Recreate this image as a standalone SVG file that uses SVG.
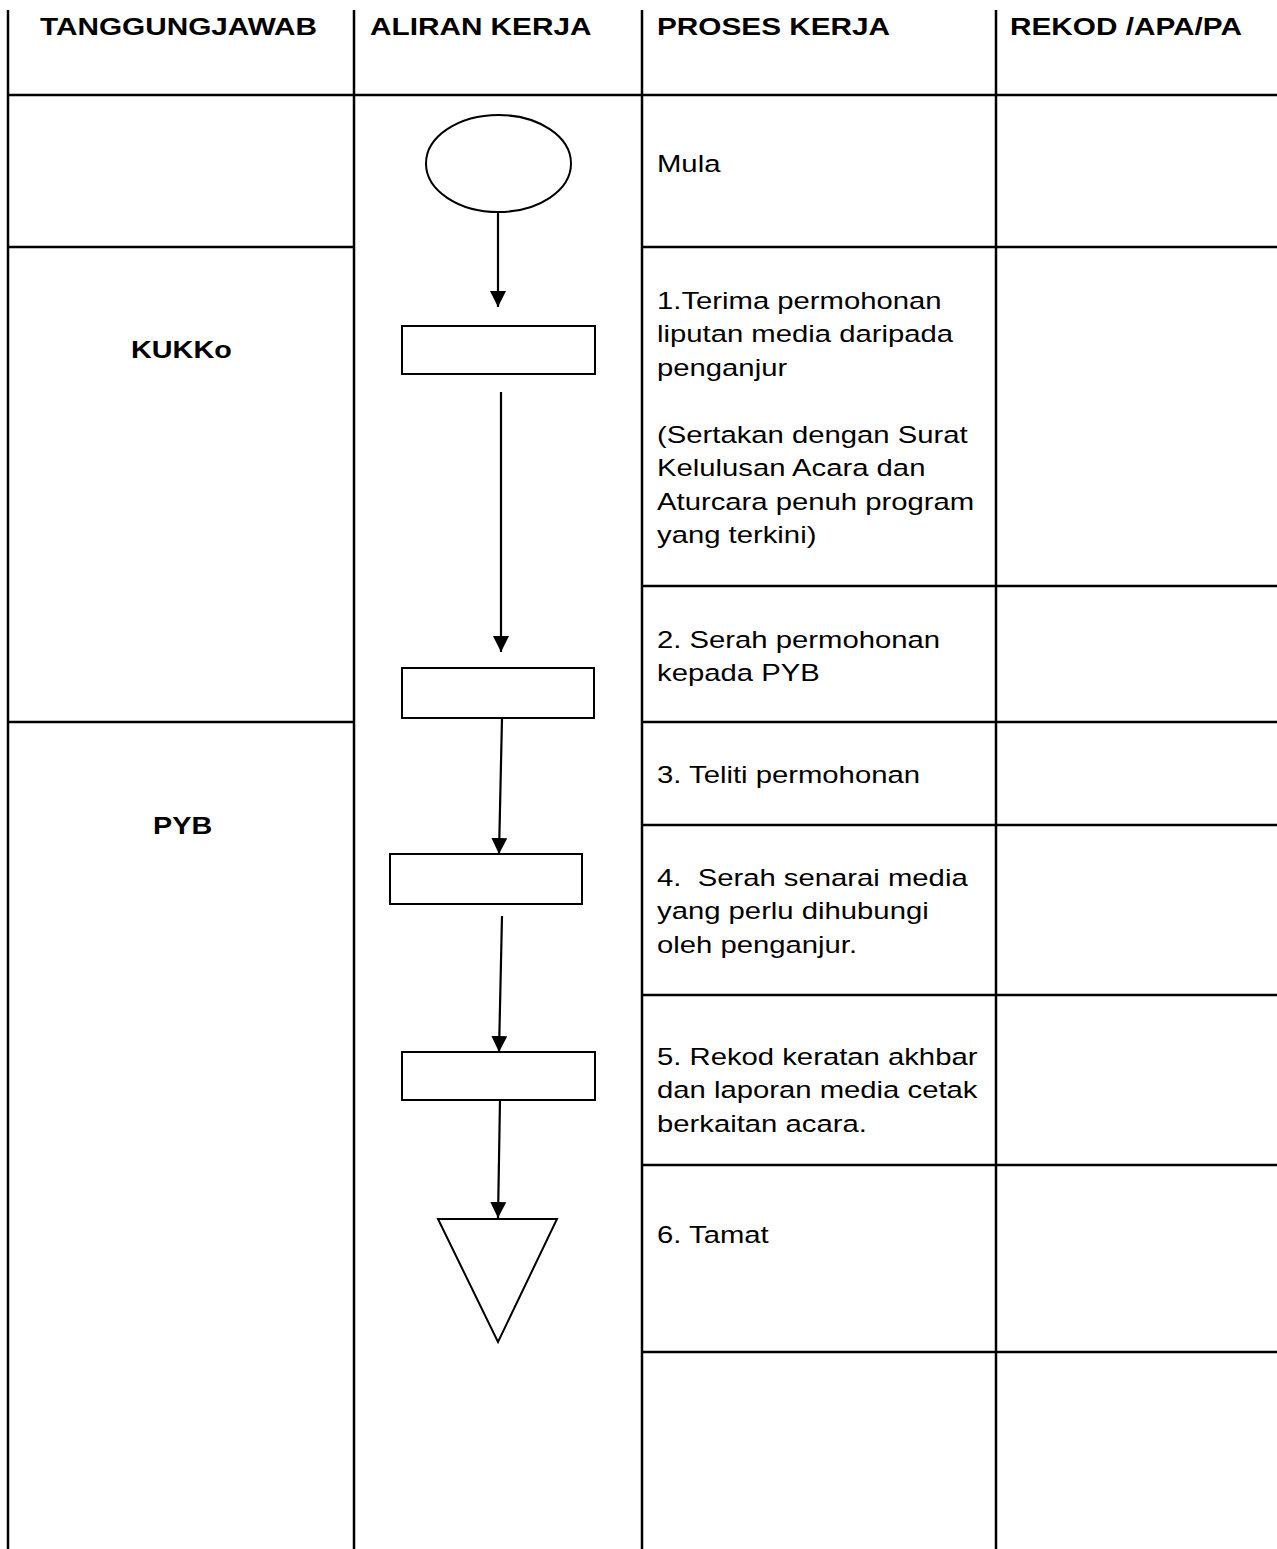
<svg xmlns="http://www.w3.org/2000/svg" width="1277" height="1549" viewBox="0 0 1277 1549">
<style>
.grid{stroke:#000;stroke-width:2.5;fill:none}
.shape{stroke:#000;stroke-width:2;fill:#fff}
.conn{stroke:#000;stroke-width:2.2;fill:none}
text{font-family:"Liberation Sans",Arial,sans-serif;font-size:24px;fill:#000}
.b{font-weight:bold}
</style>
<defs>
<marker id="ah" markerUnits="userSpaceOnUse" markerWidth="16" markerHeight="16" refX="15" refY="7.5" orient="auto" viewBox="0 0 15 15">
<path d="M0,0 L15,7.5 L0,15 z" fill="#000"/>
</marker>
</defs>
<rect width="1277" height="1549" fill="#fff"/>
<g id="table">
<line class="grid" x1="8" y1="10" x2="8" y2="1549"/>
<line class="grid" x1="354" y1="10" x2="354" y2="1549"/>
<line class="grid" x1="642" y1="10" x2="642" y2="1549"/>
<line class="grid" x1="996" y1="10" x2="996" y2="1549"/>
<line class="grid" x1="8" y1="95" x2="1277" y2="95" stroke-width="3"/>
<line class="grid" x1="8" y1="247" x2="354" y2="247"/>
<line class="grid" x1="642" y1="247" x2="1277" y2="247"/>
<line class="grid" x1="642" y1="586" x2="1277" y2="586"/>
<line class="grid" x1="8" y1="722" x2="354" y2="722"/>
<line class="grid" x1="642" y1="722" x2="1277" y2="722"/>
<line class="grid" x1="642" y1="825" x2="1277" y2="825"/>
<line class="grid" x1="642" y1="995" x2="1277" y2="995"/>
<line class="grid" x1="642" y1="1165" x2="1277" y2="1165"/>
<line class="grid" x1="642" y1="1352" x2="1277" y2="1352"/>
</g>
<g id="headers">
<text class="b" transform="translate(40,35) scale(1.24,1.02)">TANGGUNGJAWAB</text>
<text class="b" transform="translate(370,35) scale(1.24,1.02)">ALIRAN KERJA</text>
<text class="b" transform="translate(657,35) scale(1.24,1.02)">PROSES KERJA</text>
<text class="b" transform="translate(1010,35) scale(1.24,1.02)">REKOD /APA/PA</text>
</g>
<g id="roles">
<text class="b" transform="translate(131,358) scale(1.2,1.02)">KUKKo</text>
<text class="b" transform="translate(153,834) scale(1.2,1.02)">PYB</text>
</g>
<g id="start"><ellipse class="shape" cx="498.5" cy="163.5" rx="72.5" ry="48.5"/></g>
<g id="step1"><rect class="shape" x="402" y="326" width="193" height="48"/></g>
<g id="step2"><rect class="shape" x="402" y="668" width="192" height="50"/></g>
<g id="step3"><rect class="shape" x="390" y="854" width="192" height="50"/></g>
<g id="step4"><rect class="shape" x="402" y="1052" width="193" height="48"/></g>
<g id="end"><polygon class="shape" points="438,1219 557,1219 498,1342"/></g>
<g id="connectors">
<line class="conn" x1="498" y1="212" x2="498" y2="307" marker-end="url(#ah)"/>
<line class="conn" x1="501" y1="392" x2="501" y2="652" marker-end="url(#ah)"/>
<line class="conn" x1="502" y1="718" x2="499" y2="854" marker-end="url(#ah)"/>
<line class="conn" x1="502" y1="916" x2="499" y2="1052" marker-end="url(#ah)"/>
<line class="conn" x1="500" y1="1100" x2="498" y2="1218" marker-end="url(#ah)"/>
</g>
<g id="process-text">
<text transform="translate(657,172) scale(1.22,1.02)">Mula</text>
<text transform="translate(657,309) scale(1.22,1.02)"><tspan x="0" y="0">1.Terima permohonan</tspan><tspan x="0" y="32.8">liputan media daripada</tspan><tspan x="0" y="65.6">penganjur</tspan><tspan x="0" y="131.4">(Sertakan dengan Surat</tspan><tspan x="0" y="164.2">Kelulusan Acara dan</tspan><tspan x="0" y="197">Aturcara penuh program</tspan><tspan x="0" y="229.8">yang terkini)</tspan></text>
<text transform="translate(657,648) scale(1.22,1.02)"><tspan x="0" y="0">2. Serah permohonan</tspan><tspan x="0" y="32.8">kepada PYB</tspan></text>
<text transform="translate(657,783) scale(1.22,1.02)">3. Teliti permohonan</text>
<text transform="translate(657,886) scale(1.22,1.02)" xml:space="preserve"><tspan x="0" y="0">4.  Serah senarai media</tspan><tspan x="0" y="32.8">yang perlu dihubungi</tspan><tspan x="0" y="65.6">oleh penganjur.</tspan></text>
<text transform="translate(657,1065) scale(1.22,1.02)"><tspan x="0" y="0">5. Rekod keratan akhbar</tspan><tspan x="0" y="32.8">dan laporan media cetak</tspan><tspan x="0" y="65.6">berkaitan acara.</tspan></text>
<text transform="translate(657,1243) scale(1.22,1.02)">6. Tamat</text>
</g>
</svg>
